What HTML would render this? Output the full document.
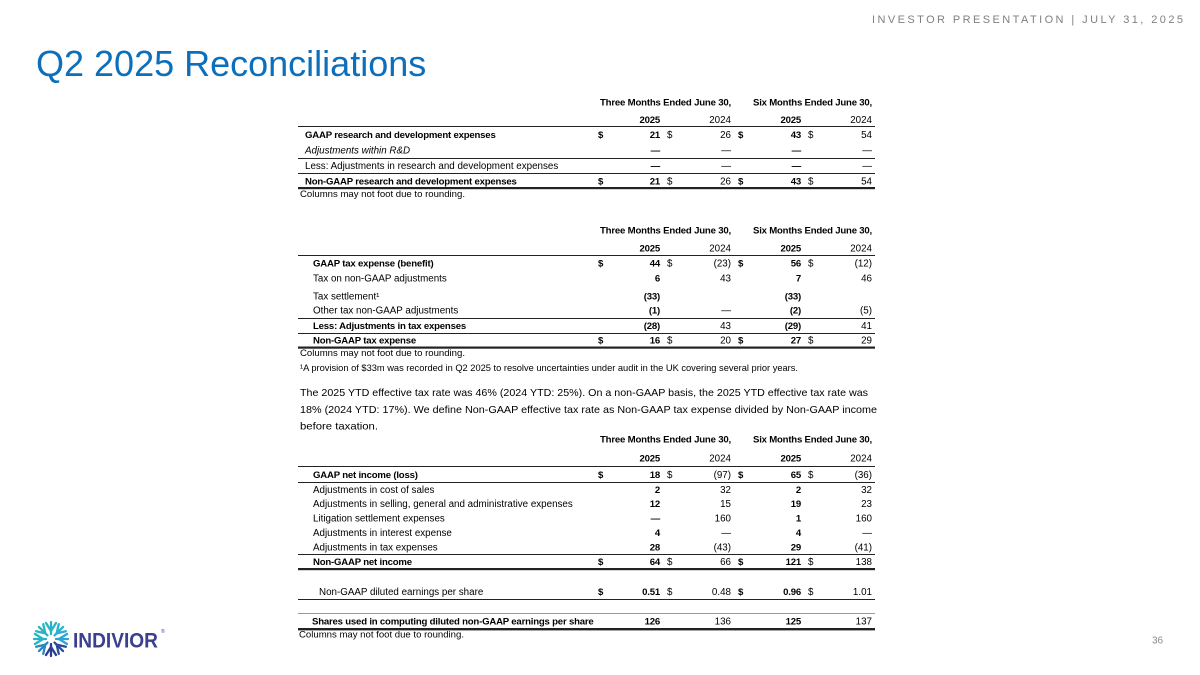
<!DOCTYPE html>
<html><head><meta charset="utf-8"><style>
html,body{margin:0;padding:0;background:#fff;}
svg{display:block;}
text{fill:#000;font-size:9.8px;font-family:"Liberation Sans",Arial,sans-serif;}
.b{font-weight:bold;font-size:9.6px;letter-spacing:-0.2px;}
.e{text-anchor:end;}
.i{font-style:italic;}
.ln{stroke:#222;stroke-width:1;shape-rendering:crispEdges;}
.lg{stroke:#9a9a9a;stroke-width:1;shape-rendering:crispEdges;}
.fn{font-size:9.4px;}
</style></head><body>
<svg width="1200" height="675" viewBox="0 0 1200 675">
<rect width="1200" height="675" fill="#fff"/>

<!-- Header -->
<text x="872" y="23" style="font-size:11px;fill:#808080" textLength="311" lengthAdjust="spacing">INVESTOR PRESENTATION | JULY 31, 2025</text>
<!-- Title -->
<text x="36" y="76" style="font-size:36px;fill:#0B6FBC">Q2 2025 Reconciliations</text>

<!-- ===== TABLE 1 ===== -->
<text x="600" y="105.5" class="b" textLength="131" lengthAdjust="spacingAndGlyphs">Three Months Ended June 30,</text>
<text x="753" y="105.5" class="b" textLength="119" lengthAdjust="spacingAndGlyphs">Six Months Ended June 30,</text>
<text x="660" y="123" class="b e">2025</text>
<text x="731" y="123" class="e">2024</text>
<text x="801" y="123" class="b e">2025</text>
<text x="872" y="123" class="e">2024</text>
<line x1="298" x2="875" y1="126.5" y2="126.5" class="ln"/>

<text x="305" y="138" class="b">GAAP research and development expenses</text>
<text x="598" y="138" class="b">$</text><text x="660" y="138" class="b e">21</text>
<text x="667" y="138">$</text><text x="731" y="138" class="e">26</text>
<text x="738" y="138" class="b">$</text><text x="801" y="138" class="b e">43</text>
<text x="808" y="138">$</text><text x="872" y="138" class="e">54</text>

<text x="305" y="153.5" class="i">Adjustments within R&amp;D</text>
<text x="660" y="153.5" class="b e">—</text><text x="731" y="153.5" class="e">—</text>
<text x="801" y="153.5" class="b e">—</text><text x="872" y="153.5" class="e">—</text>
<line x1="298" x2="875" y1="158.5" y2="158.5" class="ln"/>

<text x="305" y="169">Less: Adjustments in research and development expenses</text>
<text x="660" y="169" class="b e">—</text><text x="731" y="169" class="e">—</text>
<text x="801" y="169" class="b e">—</text><text x="872" y="169" class="e">—</text>
<line x1="298" x2="875" y1="173.5" y2="173.5" class="ln"/>

<text x="305" y="184.5" class="b">Non-GAAP research and development expenses</text>
<text x="598" y="184.5" class="b">$</text><text x="660" y="184.5" class="b e">21</text>
<text x="667" y="184.5">$</text><text x="731" y="184.5" class="e">26</text>
<text x="738" y="184.5" class="b">$</text><text x="801" y="184.5" class="b e">43</text>
<text x="808" y="184.5">$</text><text x="872" y="184.5" class="e">54</text>
<rect x="298" y="187" width="577" height="2.2" fill="#222"/>
<text x="300" y="197" class="fn" textLength="165" lengthAdjust="spacingAndGlyphs">Columns may not foot due to rounding.</text>

<!-- ===== TABLE 2 ===== -->
<text x="600" y="233.5" class="b" textLength="131" lengthAdjust="spacingAndGlyphs">Three Months Ended June 30,</text>
<text x="753" y="233.5" class="b" textLength="119" lengthAdjust="spacingAndGlyphs">Six Months Ended June 30,</text>
<text x="660" y="251.5" class="b e">2025</text>
<text x="731" y="251.5" class="e">2024</text>
<text x="801" y="251.5" class="b e">2025</text>
<text x="872" y="251.5" class="e">2024</text>
<line x1="298" x2="875" y1="255.5" y2="255.5" class="ln"/>

<text x="313" y="266.5" class="b">GAAP tax expense (benefit)</text>
<text x="598" y="266.5" class="b">$</text><text x="660" y="266.5" class="b e">44</text>
<text x="667" y="266.5">$</text><text x="731" y="266.5" class="e">(23)</text>
<text x="738" y="266.5" class="b">$</text><text x="801" y="266.5" class="b e">56</text>
<text x="808" y="266.5">$</text><text x="872" y="266.5" class="e">(12)</text>

<text x="313" y="281.5">Tax on non-GAAP adjustments</text>
<text x="660" y="281.5" class="b e">6</text><text x="731" y="281.5" class="e">43</text>
<text x="801" y="281.5" class="b e">7</text><text x="872" y="281.5" class="e">46</text>

<text x="313" y="299.5">Tax settlement¹</text>
<text x="660" y="299.5" class="b e">(33)</text>
<text x="801" y="299.5" class="b e">(33)</text>

<text x="313" y="313.5">Other tax non-GAAP adjustments</text>
<text x="660" y="313.5" class="b e">(1)</text><text x="731" y="313.5" class="e">—</text>
<text x="801" y="313.5" class="b e">(2)</text><text x="872" y="313.5" class="e">(5)</text>
<line x1="298" x2="875" y1="318.5" y2="318.5" class="ln"/>

<text x="313" y="329" class="b">Less: Adjustments in tax expenses</text>
<text x="660" y="329" class="b e">(28)</text><text x="731" y="329" class="e">43</text>
<text x="801" y="329" class="b e">(29)</text><text x="872" y="329" class="e">41</text>
<line x1="298" x2="875" y1="333.5" y2="333.5" class="ln"/>

<text x="313" y="343.5" class="b">Non-GAAP tax expense</text>
<text x="598" y="343.5" class="b">$</text><text x="660" y="343.5" class="b e">16</text>
<text x="667" y="343.5">$</text><text x="731" y="343.5" class="e">20</text>
<text x="738" y="343.5" class="b">$</text><text x="801" y="343.5" class="b e">27</text>
<text x="808" y="343.5">$</text><text x="872" y="343.5" class="e">29</text>
<rect x="298" y="346.5" width="577" height="2.2" fill="#222"/>
<text x="300" y="356" class="fn" textLength="165" lengthAdjust="spacingAndGlyphs">Columns may not foot due to rounding.</text>
<text x="300" y="371" class="fn" textLength="498" lengthAdjust="spacingAndGlyphs">¹A provision of $33m was recorded in Q2 2025 to resolve uncertainties under audit in the UK covering several prior years.</text>

<!-- Paragraph -->
<text x="300" y="396" style="font-size:10.5px" textLength="568" lengthAdjust="spacingAndGlyphs">The 2025 YTD effective tax rate was 46% (2024 YTD: 25%). On a non-GAAP basis, the 2025 YTD effective tax rate was</text>
<text x="300" y="413" style="font-size:10.5px" textLength="577" lengthAdjust="spacingAndGlyphs">18% (2024 YTD: 17%). We define Non-GAAP effective tax rate as Non-GAAP tax expense divided by Non-GAAP income</text>
<text x="300" y="429.5" style="font-size:10.5px" textLength="78" lengthAdjust="spacingAndGlyphs">before taxation.</text>

<!-- ===== TABLE 3 ===== -->
<text x="600" y="442.5" class="b" textLength="131" lengthAdjust="spacingAndGlyphs">Three Months Ended June 30,</text>
<text x="753" y="442.5" class="b" textLength="119" lengthAdjust="spacingAndGlyphs">Six Months Ended June 30,</text>
<text x="660" y="461.5" class="b e">2025</text>
<text x="731" y="461.5" class="e">2024</text>
<text x="801" y="461.5" class="b e">2025</text>
<text x="872" y="461.5" class="e">2024</text>
<line x1="298" x2="875" y1="466.5" y2="466.5" class="ln"/>

<text x="313" y="478" class="b">GAAP net income (loss)</text>
<text x="598" y="478" class="b">$</text><text x="660" y="478" class="b e">18</text>
<text x="667" y="478">$</text><text x="731" y="478" class="e">(97)</text>
<text x="738" y="478" class="b">$</text><text x="801" y="478" class="b e">65</text>
<text x="808" y="478">$</text><text x="872" y="478" class="e">(36)</text>
<line x1="298" x2="875" y1="482.5" y2="482.5" class="ln"/>

<text x="313" y="493">Adjustments in cost of sales</text>
<text x="660" y="493" class="b e">2</text><text x="731" y="493" class="e">32</text>
<text x="801" y="493" class="b e">2</text><text x="872" y="493" class="e">32</text>

<text x="313" y="507">Adjustments in selling, general and administrative expenses</text>
<text x="660" y="507" class="b e">12</text><text x="731" y="507" class="e">15</text>
<text x="801" y="507" class="b e">19</text><text x="872" y="507" class="e">23</text>

<text x="313" y="521.5">Litigation settlement expenses</text>
<text x="660" y="521.5" class="b e">—</text><text x="731" y="521.5" class="e">160</text>
<text x="801" y="521.5" class="b e">1</text><text x="872" y="521.5" class="e">160</text>

<text x="313" y="536">Adjustments in interest expense</text>
<text x="660" y="536" class="b e">4</text><text x="731" y="536" class="e">—</text>
<text x="801" y="536" class="b e">4</text><text x="872" y="536" class="e">—</text>

<text x="313" y="550.5">Adjustments in tax expenses</text>
<text x="660" y="550.5" class="b e">28</text><text x="731" y="550.5" class="e">(43)</text>
<text x="801" y="550.5" class="b e">29</text><text x="872" y="550.5" class="e">(41)</text>
<line x1="298" x2="875" y1="554.5" y2="554.5" class="ln"/>

<text x="313" y="565" class="b">Non-GAAP net income</text>
<text x="598" y="565" class="b">$</text><text x="660" y="565" class="b e">64</text>
<text x="667" y="565">$</text><text x="731" y="565" class="e">66</text>
<text x="738" y="565" class="b">$</text><text x="801" y="565" class="b e">121</text>
<text x="808" y="565">$</text><text x="872" y="565" class="e">138</text>
<rect x="298" y="568" width="577" height="2.2" fill="#222"/>

<text x="319" y="595">Non-GAAP diluted earnings per share</text>
<text x="598" y="595" class="b">$</text><text x="660" y="595" class="b e">0.51</text>
<text x="667" y="595">$</text><text x="731" y="595" class="e">0.48</text>
<text x="738" y="595" class="b">$</text><text x="801" y="595" class="b e">0.96</text>
<text x="808" y="595">$</text><text x="872" y="595" class="e">1.01</text>
<line x1="298" x2="875" y1="599.5" y2="599.5" class="ln"/>
<line x1="298" x2="875" y1="613.5" y2="613.5" class="lg"/>

<text x="312" y="624.5" class="b">Shares used in computing diluted non-GAAP earnings per share</text>
<text x="660" y="624.5" class="b e">126</text><text x="731" y="624.5" class="e">136</text>
<text x="801" y="624.5" class="b e">125</text><text x="872" y="624.5" class="e">137</text>
<rect x="298" y="628" width="577" height="2.4" fill="#222"/>
<text x="299" y="637.5" class="fn" textLength="165" lengthAdjust="spacingAndGlyphs">Columns may not foot due to rounding.</text>

<!-- Page number -->
<text x="1152" y="643.5" style="font-size:10px;fill:#8a8a8a">36</text>

<!-- Logo -->
<g transform="translate(51,639)" stroke-width="2.3" stroke-linecap="round" fill="none">
  <g transform="rotate(0)" stroke="#27b4c3"><line x1="0" y1="-5" x2="0" y2="-17"/><line x1="0" y1="-8" x2="-5" y2="-16"/><line x1="0" y1="-8" x2="5" y2="-16"/></g>
  <g transform="rotate(45)" stroke="#29afd2"><line x1="0" y1="-5" x2="0" y2="-17"/><line x1="0" y1="-8" x2="-5" y2="-16"/><line x1="0" y1="-8" x2="5" y2="-16"/></g>
  <g transform="rotate(90)" stroke="#2aa5d9"><line x1="0" y1="-5" x2="0" y2="-17"/><line x1="0" y1="-8" x2="-5" y2="-16"/><line x1="0" y1="-8" x2="5" y2="-16"/></g>
  <g transform="rotate(135)" stroke="#2c4b9b"><line x1="0" y1="-5" x2="0" y2="-17"/><line x1="0" y1="-8" x2="-5" y2="-16"/><line x1="0" y1="-8" x2="5" y2="-16"/></g>
  <g transform="rotate(180)" stroke="#2d3d8f"><line x1="0" y1="-5" x2="0" y2="-17"/><line x1="0" y1="-8" x2="-5" y2="-16"/><line x1="0" y1="-8" x2="5" y2="-16"/></g>
  <g transform="rotate(225)" stroke="#2a88bd"><line x1="0" y1="-5" x2="0" y2="-17"/><line x1="0" y1="-8" x2="-5" y2="-16"/><line x1="0" y1="-8" x2="5" y2="-16"/></g>
  <g transform="rotate(270)" stroke="#27b4c3"><line x1="0" y1="-5" x2="0" y2="-17"/><line x1="0" y1="-8" x2="-5" y2="-16"/><line x1="0" y1="-8" x2="5" y2="-16"/></g>
  <g transform="rotate(315)" stroke="#27b4c3"><line x1="0" y1="-5" x2="0" y2="-17"/><line x1="0" y1="-8" x2="-5" y2="-16"/><line x1="0" y1="-8" x2="5" y2="-16"/></g>
</g>
<text x="73" y="647.5" style="font-size:21.5px;font-weight:bold;fill:#3b3f8d" textLength="85" lengthAdjust="spacingAndGlyphs">INDIVIOR</text>
<text x="161" y="633" style="font-size:5px;fill:#3b3f8d">®</text>
</svg>
</body></html>
